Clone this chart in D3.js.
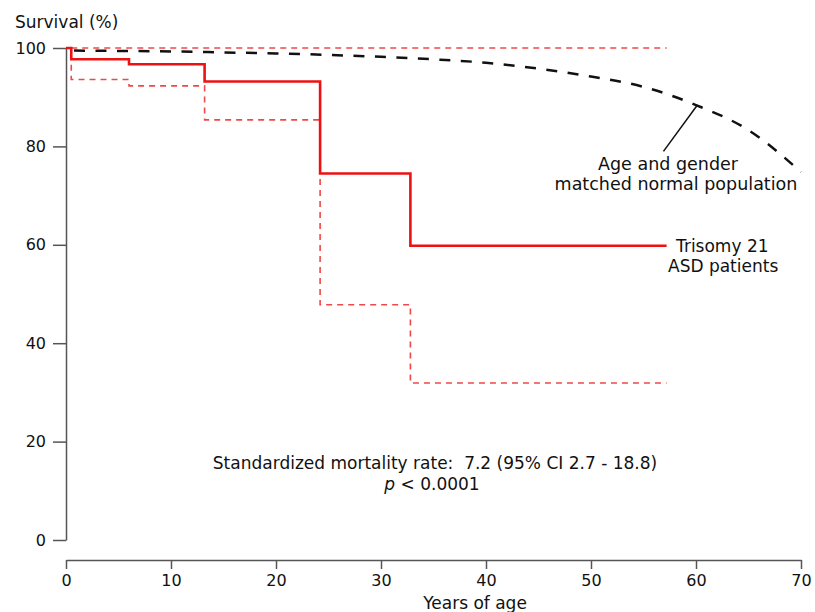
<!DOCTYPE html>
<html>
<head>
<meta charset="utf-8">
<script src="https://cdn.jsdelivr.net/npm/d3@7"></script>
<style>
  html, body { margin: 0; padding: 0; background: #fff; }
  svg { display: block; }
  text { font-family: "DejaVu Sans", sans-serif; fill: #111; }
</style>
</head>
<body>
<svg id="chart" width="815" height="612"></svg>
<script>
// ---- Data ----
const kmTimes     = [0, 0.5, 6.0, 13.2, 24.2, 32.8, 57.2];
const kmSurvival  = [100, 97.7, 96.7, 93.2, 74.5, 59.8, 59.8];
const ciLower     = [100, 93.6, 92.3, 85.4, 47.8, 31.9, 31.9];
const ciUpperTimes = [0.5, 57.2];
const ciUpper      = [100, 100];
const popAges     = [0, 5, 10, 15, 20, 25, 30, 35, 40, 45, 50, 55, 60, 65, 70];
const popSurvival = [99.5, 99.4, 99.3, 99.1, 98.9, 98.6, 98.2, 97.7, 97.0, 95.8, 94.2, 92.1, 88.4, 83.3, 74.8];
const xTicks = [0, 10, 20, 30, 40, 50, 60, 70];
const yTicks = [0, 20, 40, 60, 80, 100];

const svg = d3.select("#chart");
const x = d3.scaleLinear().domain([0, 70]).range([66, 801]);
const y = d3.scaleLinear().domain([0, 100]).range([540, 48]);

// Y axis
const yAxis = svg.append("g")
  .attr("transform", "translate(66,0)")
  .call(d3.axisLeft(y).tickValues(yTicks).tickSize(13).tickSizeOuter(0).tickPadding(7));
// X axis (offset below)
const xAxis = svg.append("g")
  .attr("transform", "translate(0,560)")
  .call(d3.axisBottom(x).tickValues(xTicks).tickSize(9).tickSizeOuter(0).tickPadding(6));

[yAxis, xAxis].forEach(g => {
  g.select(".domain").attr("stroke", "#555").attr("stroke-width", 1.5);
  g.selectAll(".tick line").attr("stroke", "#555").attr("stroke-width", 1.5);
  g.selectAll(".tick text").attr("font-family", "DejaVu Sans, sans-serif")
    .attr("font-size", 16).attr("fill", "#111");
});

const line = d3.line().x(d => x(d[0])).y(d => y(d[1]));
const stepLine = d3.line().x(d => x(d[0])).y(d => y(d[1])).curve(d3.curveStepAfter);

// Normal population (black dashed curve)
svg.append("path")
  .datum(popAges.map((a, i) => [a, popSurvival[i]]))
  .attr("d", line.curve(d3.curveMonotoneX))
  .attr("fill", "none").attr("stroke", "#111").attr("stroke-width", 2.5)
  .attr("stroke-dasharray", "11,10.5").attr("stroke-dashoffset", -8);

// Confidence interval lines
svg.append("path")
  .datum(ciUpperTimes.map((t, i) => [t, ciUpper[i]]))
  .attr("d", d3.line().x(d => x(d[0])).y(d => y(d[1])))
  .attr("fill", "none").attr("stroke", "#f04848").attr("stroke-width", 1.6)
  .attr("stroke-dasharray", "6,5");
svg.append("path")
  .datum(kmTimes.map((t, i) => [t, ciLower[i]]))
  .attr("d", stepLine)
  .attr("fill", "none").attr("stroke", "#f04848").attr("stroke-width", 1.6)
  .attr("stroke-dasharray", "6,5");

// Kaplan-Meier curve
svg.append("path")
  .datum(kmTimes.map((t, i) => [t, kmSurvival[i]]))
  .attr("d", stepLine)
  .attr("fill", "none").attr("stroke", "#ee1111").attr("stroke-width", 2.6);

// Annotation leader line
svg.append("line")
  .attr("x1", x(60.1)).attr("y1", y(88.3))
  .attr("x2", x(56.9)).attr("y2", y(79))
  .attr("stroke", "#111").attr("stroke-width", 1.5);

// Texts
const fs = 17;
svg.append("text").attr("x", 15).attr("y", 28).attr("font-size", fs).text("Survival (%)");
svg.append("text").attr("x", 475).attr("y", 609).attr("font-size", fs)
  .attr("text-anchor", "middle").text("Years of age");

svg.append("text").attr("x", 668).attr("y", 170).attr("font-size", 17.5)
  .attr("text-anchor", "middle").text("Age and gender");
svg.append("text").attr("x", 676).attr("y", 190).attr("font-size", 17.5)
  .attr("text-anchor", "middle").text("matched normal population");

svg.append("text").attr("x", 676).attr("y", 252).attr("font-size", fs).text("Trisomy 21");
svg.append("text").attr("x", 668).attr("y", 272).attr("font-size", fs).text("ASD patients");

svg.append("text").attr("x", 435).attr("y", 469).attr("font-size", fs)
  .attr("text-anchor", "middle").attr("xml:space", "preserve")
  .text("Standardized mortality rate:  7.2 (95% CI 2.7 - 18.8)");
const pt = svg.append("text").attr("x", 432).attr("y", 490).attr("font-size", fs)
  .attr("text-anchor", "middle");
pt.append("tspan").attr("font-style", "italic").text("p");
pt.append("tspan").text(" < 0.0001");
</script>
</body>
</html>
